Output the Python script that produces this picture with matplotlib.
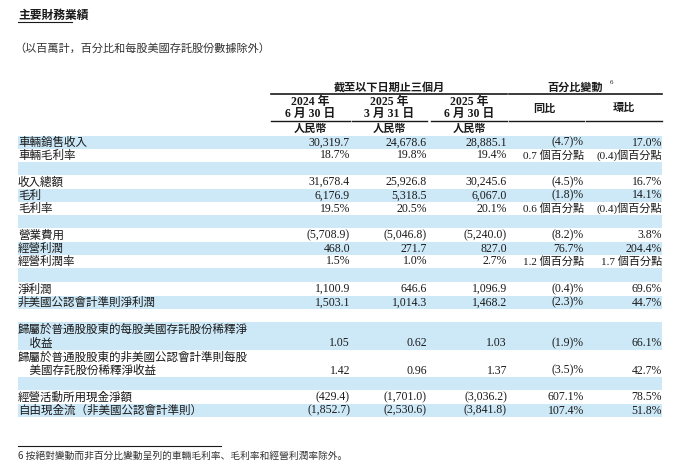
import matplotlib
matplotlib.use("Agg")
import matplotlib.pyplot as plt
from matplotlib.patches import Rectangle

title = "主要財務業績"
subtitle = "（以百萬計，百分比和每股美國存託股份數據除外）"
group1 = "截至以下日期止三個月"
group2 = "百分比變動"
col_dates = ["2024 年\n6 月 30 日", "2025 年\n3 月 31 日", "2025 年\n6 月 30 日"]
col_pct = ["同比", "環比"]
currency = "人民幣"
labels = ["車輛銷售收入", "車輛毛利率", "", "收入總額", "毛利", "毛利率", "",
          "營業費用", "經營利潤", "經營利潤率", "", "淨利潤", "非美國公認會計準則淨利潤", "",
          "歸屬於普通股股東的每股美國存託股份稀釋淨\n　收益",
          "歸屬於普通股股東的非美國公認會計準則每股\n　美國存託股份稀釋淨收益", "",
          "經營活動所用現金淨額", "自由現金流（非美國公認會計準則）"]
v2024 = ["30,319.7", "18.7%", "", "31,678.4", "6,176.9", "19.5%", "", "(5,708.9)", "468.0", "1.5%", "",
         "1,100.9", "1,503.1", "", "1.05", "1.42", "", "(429.4)", "(1,852.7)"]
v2025m = ["24,678.6", "19.8%", "", "25,926.8", "5,318.5", "20.5%", "", "(5,046.8)", "271.7", "1.0%", "",
          "646.6", "1,014.3", "", "0.62", "0.96", "", "(1,701.0)", "(2,530.6)"]
v2025j = ["28,885.1", "19.4%", "", "30,245.6", "6,067.0", "20.1%", "", "(5,240.0)", "827.0", "2.7%", "",
          "1,096.9", "1,468.2", "", "1.03", "1.37", "", "(3,036.2)", "(3,841.8)"]
yoy = ["(4.7)%", "0.7 個百分點", "", "(4.5)%", "(1.8)%", "0.6 個百分點", "", "(8.2)%", "76.7%", "1.2 個百分點", "",
       "(0.4)%", "(2.3)%", "", "(1.9)%", "(3.5)%", "", "607.1%", "107.4%"]
qoq = ["17.0%", "(0.4)個百分點", "", "16.7%", "14.1%", "(0.4)個百分點", "", "3.8%", "204.4%", "1.7 個百分點", "",
       "69.6%", "44.7%", "", "66.1%", "42.7%", "", "78.5%", "51.8%"]
shaded = [1, 0, 1, 0, 1, 0, 1, 0, 1, 0, 1, 0, 1, 0, 1, 0, 1, 0, 1]
footnote = "6 按絕對變動而非百分比變動呈列的車輛毛利率、毛利率和經營利潤率除外。"

FAM = ["Liberation Serif", "Noto Sans CJK JP"]
CJKF = ["Noto Sans CJK JP"]
fig = plt.figure(figsize=(6.9, 4.76), dpi=100)
ax = fig.add_axes([0, 0, 1, 1])
ax.set_xlim(0, 690); ax.set_ylim(476, 0); ax.axis("off")
ink = "#1a1a1a"

ax.text(18, 15, title, fontfamily=CJKF, fontsize=8.5, fontweight="bold", va="center", color=ink)
ax.plot([18, 72], [22, 22], color=ink, lw=0.8)
ax.text(14, 48, subtitle, fontfamily=CJKF, fontsize=8, va="center", color="#333")

ax.text(389, 87, group1, fontfamily=CJKF, fontsize=8, fontweight="bold", ha="center", va="center", color=ink)
ax.text(575, 87, group2, fontfamily=CJKF, fontsize=8, fontweight="bold", ha="center", va="center", color=ink)
ax.text(610, 83, "6", fontfamily=FAM, fontsize=5, va="center", color=ink)
ax.plot([271, 507], [94, 94], color=ink, lw=1.2)
ax.plot([509, 662], [94, 94], color=ink, lw=1.2)
col_l = [271, 352, 431, 509, 586]
col_r = [350, 427, 507, 584, 662]
centers = [310, 389, 469]
for i, d in enumerate(col_dates):
    ax.text(centers[i], 108, d, fontfamily=FAM, fontsize=8.5, fontweight="bold", ha="center", va="center",
            color=ink, linespacing=1.0)
    ax.text(centers[i], 128, currency, fontfamily=CJKF, fontsize=8, fontweight="bold", ha="center", va="center", color=ink)
for i, p in enumerate(col_pct):
    ax.text([544, 624][i], 108, p, fontfamily=CJKF, fontsize=8, fontweight="bold", ha="center", va="center", color=ink)
for l, r in zip(col_l, col_r):
    ax.plot([l, r], [121, 121], color=ink, lw=1.0)

heights = [13, 13, 13, 14, 13, 13, 13, 14, 13, 13, 14, 14, 13, 13, 28, 27, 13, 14, 13]
y = 136
for i, lab in enumerate(labels):
    h = heights[i]
    if shaded[i]:
        ax.add_patch(Rectangle((18, y), 644, h, color="#cde9f8", lw=0))
    yc = y + h / 2
    if lab:
        if "\n" in lab:
            a, b = lab.split("\n")
            ax.text(18, y + 7, a, fontfamily=CJKF, fontsize=8.3, va="center", color=ink)
            ax.text(18, y + h - 6.5, b, fontfamily=CJKF, fontsize=8.3, va="center", color=ink)
            yv = y + h - 6.5
        else:
            ax.text(18, yc, lab, fontfamily=CJKF, fontsize=8.3, va="center", color=ink)
            yv = yc
        for j, vals in enumerate([v2024, v2025m, v2025j, yoy, qoq]):
            s = vals[i]
            fs = 8.0 if "個" in s else 8.5
            ax.text(col_r[j], yv, s, fontfamily=FAM, fontsize=fs, ha="right", va="center", color=ink)
    y += h

ax.plot([18, 221], [446, 446], color=ink, lw=0.8)
ax.text(18, 456, footnote, fontfamily=CJKF, fontsize=7, va="center", color="#333")
fig.savefig("out.png", dpi=100)
